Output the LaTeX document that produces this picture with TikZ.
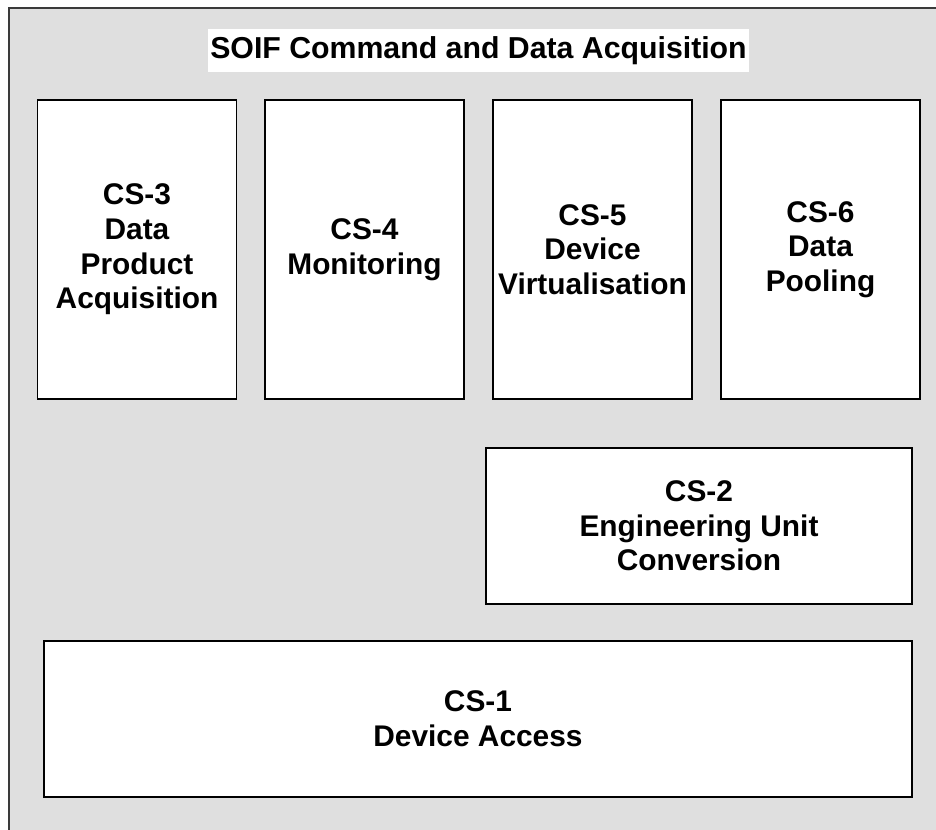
\documentclass[tikz,border=0pt]{standalone}
\usepackage{fontspec}
\setmainfont{Liberation Sans}
\definecolor{panelgrey}{HTML}{DFDFDF}
\definecolor{edgegrey}{HTML}{3A3A3A}
\begin{document}
\begin{tikzpicture}[x=0.75pt,y=-0.75pt,
  labelfont/.style={font=\bfseries\fontsize{22.4}{26}\selectfont},
  csbox/.style={draw=black, fill=white, line width=1.2pt, align=center,
    inner sep=0pt, labelfont},
  tallbox/.style={csbox, minimum width=149.5pt, minimum height=224.25pt},
  widebox/.style={csbox, minimum height=117pt}]
\useasboundingbox (0,0) rectangle (936,829);
\clip (0,0) rectangle (936,829);
% grey panel holding all components
\draw[fill=panelgrey, draw=edgegrey, line width=1.3pt] (9,8) rectangle (950,845);
% panel title on a white band
\node[fill=white, inner sep=0pt, minimum width=405.75pt, minimum height=32.25pt,
  font=\bfseries\fontsize{22.7}{27}\selectfont] (title) at (478.5,50.5)
  {SOIF Command and Data Acquisition};
% upper row of services
\node[tallbox] (cs3) at (137,249.5) {CS-3\\Data\\Product\\Acquisition};
\node[tallbox] (cs4) at (364.5,249.5) {CS-4\\Monitoring};
\node[tallbox] (cs5) at (592.5,249.5) {CS-5\\Device\\Virtualisation};
\node[tallbox] (cs6) at (820.5,249.5) {CS-6\\Data\\Pooling};
% lower services
\node[widebox, minimum width=319.5pt] (cs2) at (699,526)
  {CS-2\\Engineering Unit\\Conversion};
\node[widebox, minimum width=651pt] (cs1) at (478,719)
  {CS-1\\Device Access};
\end{tikzpicture}
\end{document}
